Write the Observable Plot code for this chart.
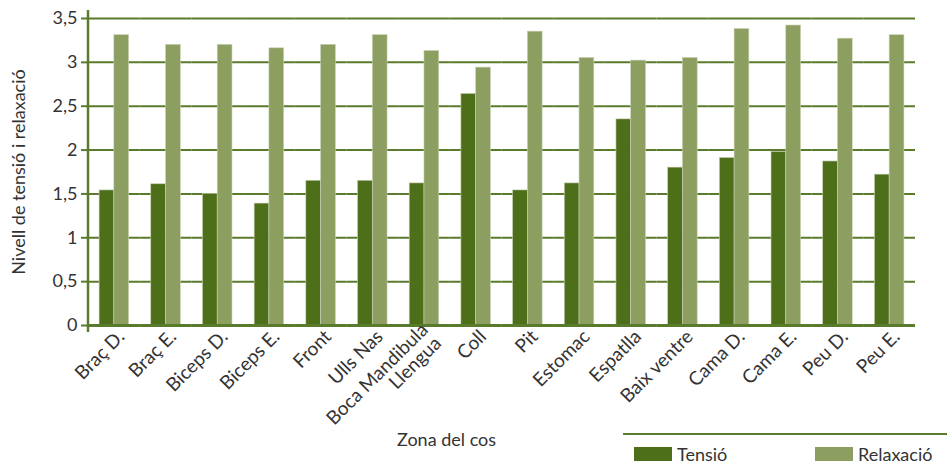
<!DOCTYPE html>
<html><head><meta charset="utf-8">
<script src="https://cdn.jsdelivr.net/npm/d3@7"></script>
<script src="https://cdn.jsdelivr.net/npm/@observablehq/plot@0.6"></script>
<style>
body{margin:0;background:#fff;font-family:Lato,sans-serif;color:#333;}
#wrap{position:relative;width:947px;height:470px;overflow:hidden;}
#xtitle{position:absolute;left:397px;top:428px;font-size:18px;line-height:22px;white-space:nowrap;}
#legline{position:absolute;left:623px;top:433px;width:324px;height:2px;background:#5b7b2c;}
.sw{position:absolute;top:447px;width:38px;height:14px;}
.lt{position:absolute;top:443px;font-size:18px;line-height:22px;white-space:nowrap;}
</style></head><body>
<div id="wrap"><div id="chart"></div>
<div id="xtitle">Zona del cos</div>
<div id="legline"></div>
<div class="sw" id="sw0" style="left:634px"></div><div class="lt" id="lt0" style="left:677px"></div>
<div class="sw" id="sw1" style="left:815px"></div><div class="lt" id="lt1" style="left:858px"></div>
</div>
<script>
const zones = ["Braç D.","Braç E.","Biceps D.","Biceps E.","Front","Ulls Nas","Boca Mandibula Llengua","Coll","Pit","Estomac","Espatlla","Baix ventre","Cama D.","Cama E.","Peu D.","Peu E."];
const tensio =    [1.54,1.61,1.50,1.39,1.65,1.65,1.62,2.64,1.54,1.62,2.35,1.80,1.91,1.98,1.87,1.72];
const relaxacio = [3.31,3.20,3.20,3.16,3.20,3.31,3.13,2.94,3.35,3.05,3.02,3.05,3.38,3.42,3.27,3.31];
const series = ["Tensió","Relaxació"];
const colors = ["#4e6f1a","#8c9e60"];
const yTicks = [0,0.5,1,1.5,2,2.5,3,3.5];

const data = zones.flatMap((z,i)=>[
  {zona:z, serie:series[0], valor:tensio[i]},
  {zona:z, serie:series[1], valor:relaxacio[i]}
]);
const fmt = d => String(d).replace(".", ",");
const green = "#5b7b2c";

const chart = Plot.plot({
  width:947, height:470,
  marginTop:18, marginBottom:145, marginLeft:88, marginRight:32,
  style:{fontFamily:"Lato, sans-serif", fontSize:"17px", color:"#333", background:"transparent", overflow:"visible"},
  fx:{domain:zones, padding:0, round:false, label:null},
  x:{domain:series, paddingInner:0, paddingOuter:0.75, round:false, axis:null},
  y:{domain:[0,3.5]},
  color:{domain:series, range:colors},
  marks:[
    Plot.gridY(yTicks, {stroke:green, strokeOpacity:1, strokeWidth:2}),
    Plot.barY(data, {fx:"zona", x:"serie", y:"valor", fill:"serie", stroke:"#c9d2b4", strokeWidth:0.6}),
    Plot.ruleY([0], {stroke:green, strokeWidth:3}),
    Plot.axisY(yTicks, {tickFormat:fmt, tickSize:7, tickPadding:4, stroke:green, strokeWidth:2, fill:"#333", fontSize:18,
      label:"Nivell de tensió i relaxació", labelAnchor:"center", labelArrow:"none", labelOffset:76}),
    Plot.axisFx({anchor:"bottom", tickRotate:-45, tickSize:0, tickPadding:2, dx:7, dy:6, fill:"#333", fontSize:19, label:null,
      tickFormat:d => d === "Boca Mandibula Llengua" ? "Boca Mandibula\nLlengua" : d})
  ]
});
document.getElementById("chart").appendChild(chart);

// vertical axis line at the left edge of the plot frame
const fxs = chart.scale("fx"), ys = chart.scale("y");
const x0 = fxs.apply(zones[0]);
d3.select(chart).append("line")
  .attr("x1", x0).attr("x2", x0)
  .attr("y1", ys.apply(3.5) - 8).attr("y2", ys.apply(0) + 7)
  .attr("stroke", green).attr("stroke-width", 2.5);

series.forEach((s,i)=>{
  document.getElementById("sw"+i).style.background = colors[i];
  document.getElementById("lt"+i).textContent = s;
});
</script>
</body></html>
